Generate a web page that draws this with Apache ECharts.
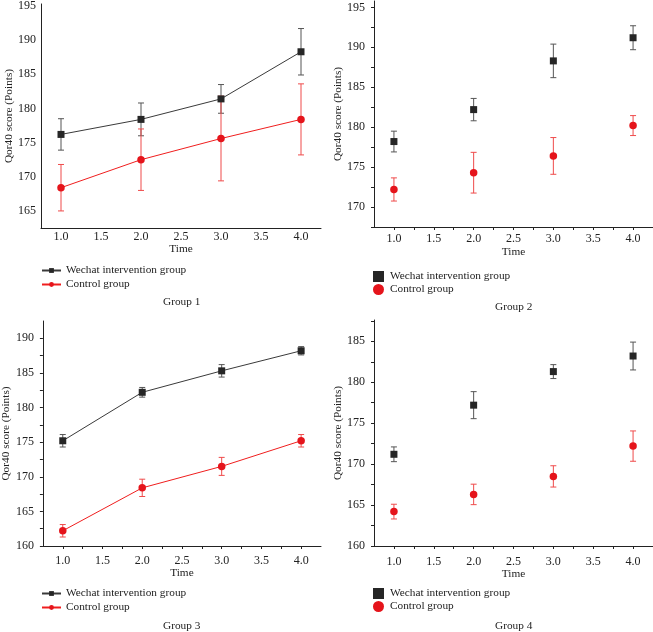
<!DOCTYPE html>
<html>
<head>
<meta charset="utf-8">
<script src="https://cdn.jsdelivr.net/npm/echarts@6/dist/echarts.min.js"></script>
<style>
html,body{margin:0;padding:0;background:#fff;}
#c{width:653px;height:632px;}
</style>
</head>
<body>
<div id="c"></div>
<script>
// ---- data ----
const times = [1, 2, 3, 4];
const seriesNames = ['Wechat intervention group', 'Control group'];
const groupTitles = ['Group 1', 'Group 2', 'Group 3', 'Group 4'];
const axisTitleX = 'Time';
const axisTitleY = 'Qor40 score (Points)';

const g1Wechat = [176.2, 178.4, 181.4, 188.3];
const g1WechatSd = [2.3, 2.4, 2.1, 3.4];
const g1Control = [168.4, 172.5, 175.6, 178.4];
const g1ControlSd = [3.4, 4.5, 6.2, 5.2];

const g2Wechat = [178.2, 182.2, 188.3, 191.2];
const g2WechatSd = [1.3, 1.4, 2.1, 1.5];
const g2Control = [172.2, 174.3, 176.4, 180.2];
const g2ControlSd = [1.45, 2.55, 2.3, 1.25];

const g3Wechat = [175.2, 182.2, 185.3, 188.2];
const g3WechatSd = [0.9, 0.7, 0.9, 0.6];
const g3Control = [162.2, 168.4, 171.5, 175.2];
const g3ControlSd = [0.9, 1.25, 1.3, 0.9];

const g4Wechat = [171.2, 177.2, 181.3, 183.2];
const g4WechatSd = [0.9, 1.65, 0.85, 1.7];
const g4Control = [164.2, 166.3, 168.5, 172.2];
const g4ControlSd = [0.9, 1.25, 1.3, 1.85];

// ---- styles ----
const FONT = '"Liberation Serif", "DejaVu Serif", serif';
const BLACK = '#262626';
const BLACK_LINE = '#3a3a3a';
const BLACK_ERR = '#555555';
const RED = '#e5141b';
const RED_LINE = '#f01e1e';
const RED_ERR = '#ef4b4b';

const panels = [
  {wechat: g1Wechat, wsd: g1WechatSd, control: g1Control, csd: g1ControlSd, connect: true,
   grid: {left: 41, top: 1, width: 280, height: 227}, y: {min: 162.5, max: 195.3, interval: 2.5},
   ticks: false, xLabelMargin: 3, yLabelMargin: 5, xNameGap: 15, yNameGap: 25,
   legendTop: 265, legendGap: 3, titleX: 181, titleY: 304},
  {wechat: g2Wechat, wsd: g2WechatSd, control: g2Control, csd: g2ControlSd, connect: false,
   grid: {left: 374, top: 1, width: 279, height: 226}, y: {min: 167.5, max: 195.8, interval: 2.5},
   ticks: true, xLabelMargin: 6, yLabelMargin: 9, xNameGap: 20, yNameGap: 29,
   legendTop: 271, legendGap: 2, titleX: 513, titleY: 309},
  {wechat: g3Wechat, wsd: g3WechatSd, control: g3Control, csd: g3ControlSd, connect: true,
   grid: {left: 41, top: 321, width: 280, height: 225}, y: {min: 160, max: 192.5, interval: 2.5},
   ticks: true, xLabelMargin: 9, yLabelMargin: 9, xNameGap: 21, yNameGap: 28,
   legendTop: 588, legendGap: 3, titleX: 181, titleY: 628},
  {wechat: g4Wechat, wsd: g4WechatSd, control: g4Control, csd: g4ControlSd, connect: false,
   grid: {left: 374, top: 320, width: 279, height: 226}, y: {min: 160, max: 187.6, interval: 2.5},
   ticks: true, xLabelMargin: 10, yLabelMargin: 9, xNameGap: 21, yNameGap: 29,
   legendTop: 588, legendGap: 2, titleX: 513, titleY: 628}
];

function errRender(params, api) {
  const x = api.value(0), m = api.value(1), s = api.value(2);
  const hi = api.coord([x, m + s]);
  const lo = api.coord([x, m - s]);
  const w = 3;
  const st = {stroke: api.visual('color'), lineWidth: 1};
  return {
    type: 'group',
    children: [
      {type: 'line', shape: {x1: hi[0], y1: hi[1], x2: lo[0], y2: lo[1]}, style: st},
      {type: 'line', shape: {x1: hi[0] - w, y1: hi[1], x2: hi[0] + w, y2: hi[1]}, style: st},
      {type: 'line', shape: {x1: lo[0] - w, y1: lo[1], x2: lo[0] + w, y2: lo[1]}, style: st}
    ]
  };
}

const grids = [], xAxes = [], yAxes = [], series = [], legends = [], graphics = [];
const axisLine = {show: true, onZero: false, lineStyle: {color: '#222', width: 1}};
const labelStyle = {fontFamily: FONT, fontSize: 12, color: '#222'};
const nameStyle = {fontFamily: FONT, fontSize: 11.3, color: '#222'};

panels.forEach((p, i) => {
  grids.push(p.grid);
  xAxes.push({
    type: 'value', gridIndex: i, min: 0.75, max: 4.25, interval: 0.25,
    axisLine: axisLine, splitLine: {show: false},
    axisTick: {show: p.ticks, length: 3, lineStyle: {color: '#222'}},
    axisLabel: Object.assign({margin: p.xLabelMargin, showMinLabel: false, showMaxLabel: false,
      formatter: v => (Math.abs(v * 2 - Math.round(v * 2)) < 1e-6 ? v.toFixed(1) : '')}, labelStyle),
    name: axisTitleX, nameLocation: 'middle', nameGap: p.xNameGap, nameTextStyle: nameStyle
  });
  yAxes.push({
    type: 'value', gridIndex: i, min: p.y.min, max: p.y.max, interval: p.y.interval,
    axisLine: axisLine, splitLine: {show: false},
    axisTick: {show: p.ticks, length: 3, lineStyle: {color: '#222'}},
    axisLabel: Object.assign({margin: p.yLabelMargin, showMaxLabel: false,
      formatter: v => (Math.abs(v / 5 - Math.round(v / 5)) < 1e-6 ? String(Math.round(v)) : '')}, labelStyle),
    name: axisTitleY, nameLocation: 'middle', nameGap: p.yNameGap, nameTextStyle: nameStyle
  });
  const wName = seriesNames[0] + '|' + i;
  const cName = seriesNames[1] + '|' + i;
  const big = !p.connect;
  series.push({
    type: 'custom', xAxisIndex: i, yAxisIndex: i, renderItem: errRender, z: 1,
    itemStyle: {color: BLACK_ERR}, encode: {x: 0, y: 1},
    data: times.map((t, k) => [t, p.wechat[k], p.wsd[k]])
  });
  series.push({
    type: 'custom', xAxisIndex: i, yAxisIndex: i, renderItem: errRender, z: 1,
    itemStyle: {color: RED_ERR}, encode: {x: 0, y: 1},
    data: times.map((t, k) => [t, p.control[k], p.csd[k]])
  });
  series.push({
    name: wName, type: p.connect ? 'line' : 'scatter', xAxisIndex: i, yAxisIndex: i, z: 3,
    symbol: 'rect', symbolSize: 7, itemStyle: {color: BLACK, opacity: 1},
    lineStyle: {color: BLACK_LINE, width: 1}, animation: false,
    data: times.map((t, k) => [t, p.wechat[k]])
  });
  series.push({
    name: cName, type: p.connect ? 'line' : 'scatter', xAxisIndex: i, yAxisIndex: i, z: 3,
    symbol: 'circle', symbolSize: 7.5, itemStyle: {color: RED, opacity: 1},
    lineStyle: {color: RED_LINE, width: 1}, animation: false,
    data: times.map((t, k) => [t, p.control[k]])
  });
  legends.push({
    left: p.grid.left - (big ? 1 : 0), top: p.legendTop, orient: 'vertical', padding: 0,
    itemWidth: big ? 11 : 19, itemHeight: big ? 11 : 6, itemGap: p.legendGap,
    textStyle: {fontFamily: FONT, fontSize: 11.3, color: '#222', padding: [0, 0, 0, big ? 1 : 0]},
    formatter: n => n.split('|')[0],
    selectedMode: false,
    data: big
      ? [{name: wName, icon: 'rect', itemStyle: {color: BLACK, opacity: 1}},
         {name: cName, icon: 'circle', itemStyle: {color: RED, opacity: 1}}]
      : [wName, cName]
  });
  graphics.push({
    type: 'text', left: p.titleX - 18, top: p.titleY - 7,
    style: {text: groupTitles[i], font: '11.3px ' + FONT, fill: '#222'}
  });
});

const chart = echarts.init(document.getElementById('c'), null, {renderer: 'canvas'});
chart.setOption({
  animation: false,
  backgroundColor: '#ffffff',
  grid: grids, xAxis: xAxes, yAxis: yAxes, series: series, legend: legends, graphic: graphics
});
</script>
</body>
</html>
